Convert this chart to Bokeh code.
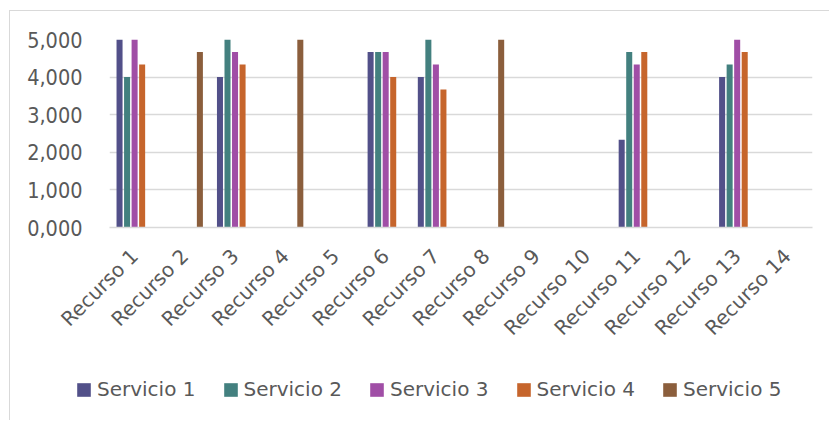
import math
from bokeh.plotting import figure
from bokeh.layouts import column
from bokeh.models import ColumnDataSource, Range1d, Legend, LegendItem, CustomJSTickFormatter
from bokeh.transform import dodge
from bokeh.embed import file_html
from bokeh.resources import INLINE

categories = ["Recurso 1", "Recurso 2", "Recurso 3", "Recurso 4", "Recurso 5", "Recurso 6", "Recurso 7",
              "Recurso 8", "Recurso 9", "Recurso 10", "Recurso 11", "Recurso 12", "Recurso 13", "Recurso 14"]
series_names = ["Servicio 1", "Servicio 2", "Servicio 3", "Servicio 4", "Servicio 5"]
servicio_1 = [5.0, 0, 4.0, 0, 0, 4.667, 4.0, 0, 0, 0, 2.333, 0, 4.0, 0]
servicio_2 = [4.0, 0, 5.0, 0, 0, 4.667, 5.0, 0, 0, 0, 4.667, 0, 4.333, 0]
servicio_3 = [5.0, 0, 4.667, 0, 0, 4.667, 4.333, 0, 0, 0, 4.333, 0, 5.0, 0]
servicio_4 = [4.333, 0, 4.333, 0, 0, 4.0, 3.667, 0, 0, 0, 4.667, 0, 4.667, 0]
servicio_5 = [0, 4.667, 0, 5.0, 0, 0, 0, 5.0, 0, 0, 0, 0, 0, 0]
colors = ["#525089", "#43807F", "#A04EA6", "#C6652C", "#8B5E3C"]

NUM_FONT = "DejaVu Sans Condensed"
NUM_SIZE = "21.5px"
TXT_FONT = "DejaVu Sans"
TXT_SIZE = "20px"
TXT = "#595959"

source = ColumnDataSource(dict(cat=categories, s1=servicio_1, s2=servicio_2, s3=servicio_3,
                               s4=servicio_4, s5=servicio_5))

# main chart
p = figure(x_range=categories, y_range=Range1d(0, 5), width=819, height=349,
           output_backend="svg", toolbar_location=None,
           min_border_left=99, min_border_right=17, min_border_top=28, min_border_bottom=133)
p.outline_line_color = None
p.frame_align = False

cols = ["s1", "s2", "s3", "s4", "s5"]
offsets = [-0.3, -0.15, 0.0, 0.15, 0.3]
for c, off, col in zip(cols, offsets, colors):
    p.vbar(x=dodge("cat", off, range=p.x_range), top=c, width=0.12, source=source,
           fill_color=col, line_color=None)

p.xgrid.grid_line_color = None
p.ygrid.grid_line_color = "#d9d9d9"
p.ygrid.grid_line_width = 1.5

p.yaxis.ticker = [0, 1, 2, 3, 4, 5]
p.yaxis.formatter = CustomJSTickFormatter(code="return tick.toFixed(3).replace('.', ',');")
p.yaxis.axis_line_color = None
p.yaxis.major_tick_line_color = None
p.yaxis.minor_tick_line_color = None
p.yaxis.major_label_standoff = 21
p.yaxis.major_label_text_font = NUM_FONT
p.yaxis.major_label_text_font_size = NUM_SIZE
p.yaxis.major_label_text_color = TXT

p.xaxis.axis_line_color = "#d9d9d9"
p.xaxis.axis_line_width = 1.5
p.xaxis.major_tick_line_color = None
p.xaxis.minor_tick_line_color = None
p.xaxis.major_label_orientation = math.pi / 4
p.xaxis.major_label_standoff = 19
p.xaxis.major_label_text_font = TXT_FONT
p.xaxis.major_label_text_font_size = TXT_SIZE
p.xaxis.major_label_text_color = TXT

# legend strip (dummy renderers sit outside the visible range; only their legend swatches show)
pl = figure(width=819, height=60, x_range=Range1d(0, 1), y_range=Range1d(0, 1),
            output_backend="svg", toolbar_location=None, x_axis_type=None, y_axis_type=None,
            min_border_left=0, min_border_right=0, min_border_top=0, min_border_bottom=0)
pl.frame_align = False
pl.outline_line_color = None
pl.grid.visible = False
items = []
for name, col in zip(series_names, colors):
    r = pl.vbar(x=[5], top=[1], width=0.1, fill_color=col, line_color=None)
    items.append(LegendItem(label=name, renderers=[r]))
legend = Legend(items=items, orientation="horizontal", location=(65, 19))
legend.border_line_color = None
legend.background_fill_alpha = 0
legend.padding = 0
legend.margin = 0
legend.spacing = 26
legend.glyph_width = 17
legend.glyph_height = 17
legend.label_standoff = 5
legend.label_text_font = TXT_FONT
legend.label_text_font_size = TXT_SIZE
legend.label_text_color = TXT
pl.add_layout(legend, "center")

layout = column(p, pl, spacing=0)
layout.styles = {"margin-left": "9px", "margin-top": "10px",
                 "border-left": "1.5px solid #d9d9d9", "border-top": "1.5px solid #d9d9d9"}

open("out.html", "w").write(file_html(layout, INLINE))
